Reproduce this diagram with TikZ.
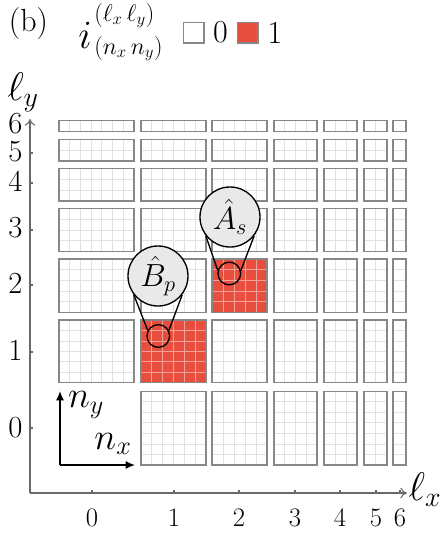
\RequirePackage{fix-cm}
\documentclass[tikz,border=0pt]{standalone}
\usetikzlibrary{arrows.meta}
\definecolor{cellred}{RGB}{232,78,62}
\definecolor{redgrid}{RGB}{243,160,150}
\definecolor{gridgray}{RGB}{226,226,226}
\definecolor{framegray}{RGB}{135,135,135}
\definecolor{axisgray}{RGB}{105,105,105}
\definecolor{lensfill}{RGB}{233,233,233}
\begin{document}
\begin{tikzpicture}[x=0.75pt,y=-0.75pt,
  lbl/.style={font=\fontsize{20}{24}\selectfont, inner sep=0pt},
  ylbl/.style={font=\fontsize{23}{26}\selectfont, inner sep=0pt},
  mathlbl/.style={font=\fontsize{30}{34}\selectfont, inner sep=0pt},
  nlbl/.style={font=\fontsize{28}{32}\selectfont, inner sep=0pt},
  axisline/.style={draw=axisgray, line width=0.8pt, -{To[length=5pt,width=8pt]}},
  tickmark/.style={draw=axisgray, line width=0.8pt},
  naxis/.style={draw=black, line width=1pt, -{Latex[length=7pt,width=6pt]}},
  cellline/.style={line width=0.6pt},
  blockframe/.style={draw=framegray, line width=0.8pt},
  lensbig/.style={circle, draw=black, fill=lensfill, line width=1pt, minimum size=45pt, inner sep=0pt, font=\fontsize{24}{28}\selectfont},
  lenssmall/.style={circle, draw=black, line width=1pt, minimum size=17pt, inner sep=0pt},
  lensline/.style={draw=black, line width=1pt}]
\useasboundingbox (0,0) rectangle (448,537);

% blocks
\foreach \lx/\xa/\xb in {0/59/134,1/141/206,2/212/267,3/274/317,4/324/357,5/364/387,6/393/406}{
  \foreach \ly/\ya/\yb in {0/391.3/465,1/320/382.7,2/259/312.3,3/208.3/251.7,4/168.3/201,5/139.3/161,6/120.7/131.7}{
    \pgfmathtruncatemacro\isempty{(\lx==0)&&(\ly==0)}
    \pgfmathtruncatemacro\isred{((\lx==1)&&(\ly==1))||((\lx==2)&&(\ly==2))}
    \ifnum\isempty=0
      \pgfmathtruncatemacro\ncm{6-\lx}
      \pgfmathtruncatemacro\nrm{6-\ly}
      \ifnum\isred=1
        \fill[cellred] (\xa,\ya) rectangle (\xb,\yb);
        \def\gridcol{redgrid}
      \else
        \fill[white] (\xa,\ya) rectangle (\xb,\yb);
        \def\gridcol{gridgray}
      \fi
      \ifnum\ncm>0
        \foreach \k in {1,...,\ncm}{\draw[cellline, draw=\gridcol] ({\xa+(\xb-\xa)*\k/(\ncm+1)},\ya) -- ({\xa+(\xb-\xa)*\k/(\ncm+1)},\yb);}
      \fi
      \ifnum\nrm>0
        \foreach \k in {1,...,\nrm}{\draw[cellline, draw=\gridcol] (\xa,{\ya+(\yb-\ya)*\k/(\nrm+1)}) -- (\xb,{\ya+(\yb-\ya)*\k/(\nrm+1)});}
      \fi
      \draw[blockframe] (\xa,\ya) rectangle (\xb,\yb);
    \fi
  }
}

% main axes
\coordinate (O) at (30,493);
\coordinate (xend) at (407,493);
\coordinate (yend) at (30,119);
\draw[axisline] (O) -- (xend);
\draw[axisline] (O) -- (yend);
\foreach \v/\px in {0/92,1/174,2/239,3/295,4/340,5/376,6/400}{
  \draw[tickmark] (\px,490) -- (\px,493);
  \node[lbl] (xl\v) at (\px,518) {\v};
}
\foreach \v/\py in {0/428,1/352,2/285,3/230,4/183,5/153}{
  \draw[tickmark] (30,\py) -- (33,\py);
}
\foreach \v/\py in {0/428,1/350,2/283,3/228,4/181,5/152,6/124}{
  \node[ylbl] (yl\v) at (15.5,\py) {\v};
}
\node[mathlbl] (lx) at (425,490) {$\ell_x$};
\node[mathlbl] (ly) at (23,92) {$\ell_y$};

% n axes
\coordinate (nO) at (60,465);
\coordinate (nyend) at (60,391);
\coordinate (nxend) at (135,465);
\draw[naxis] (nO) -- (nyend);
\draw[naxis] (nO) -- (nxend);
\node[nlbl] (ny) at (86,405) {$n_y$};
\node[nlbl] (nx) at (113,444) {$n_x$};

% lenses
\node[lenssmall] (bp) at (158.3,336) {};
\node[lensbig] (Bp) at (158,276) {$\hat{B}_p$};
\draw[lensline] (Bp.218) -- (bp.152);
\draw[lensline] (Bp.322) -- (bp.28);
\node[lenssmall] (as) at (229.3,273.5) {};
\node[lensbig] (As) at (230,217) {$\hat{A}_s$};
\draw[lensline] (As.218) -- (as.165);
\draw[lensline] (As.322) -- (as.15);

% header
\node[inner sep=0pt, font=\fontsize{24}{28}\selectfont] (tag) at (28.5,24) {(b)};
\node[inner sep=0pt, anchor=base west, font=\fontsize{30}{34}\selectfont] (ivar) at (78,48) {$i$};
\node[inner sep=0pt, anchor=base west, font=\fontsize{18}{22}\selectfont] (isup) at (94,21) {$(\ell_x\,\ell_y)$};
\node[inner sep=0pt, anchor=base west, font=\fontsize{18}{22}\selectfont] (isub) at (94,54) {$(n_x\,n_y)$};
\node[draw=framegray, fill=white, line width=1pt, minimum size=15.5pt, inner sep=0pt] (leg0) at (193.5,32.5) {};
\node[inner sep=0pt, font=\fontsize{24}{28}\selectfont] (leg0t) at (220.5,32.5) {0};
\node[draw=framegray, fill=cellred, line width=1pt, minimum size=15.5pt, inner sep=0pt] (leg1) at (247.5,32.5) {};
\node[inner sep=0pt, font=\fontsize{24}{28}\selectfont] (leg1t) at (275,32.5) {1};
\end{tikzpicture}
\end{document}
